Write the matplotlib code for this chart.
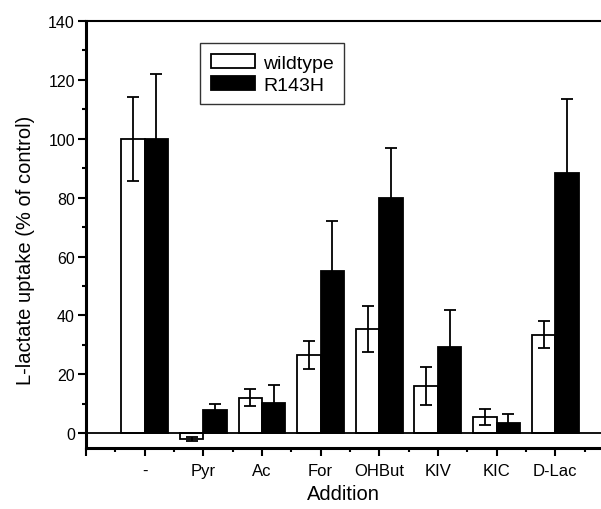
import numpy as np
import matplotlib.pyplot as plt
from matplotlib.ticker import MultipleLocator

plt.rcParams['font.family'] = ['Liberation Sans', 'DejaVu Sans']

categories = ['-', 'Pyr', 'Ac', 'For', 'OHBut', 'KIV', 'KIC', 'D-Lac']
wt_vals = [100, -2, 12, 26.5, 35.3, 16, 5.6, 33.5]
wt_err = [14.3, 0.6, 2.9, 4.7, 7.8, 6.5, 2.7, 4.6]
mut_vals = [100, 8, 10.3, 55, 80, 29.3, 3.5, 88.3]
mut_err = [22, 2, 6.1, 17, 17, 12.7, 3.1, 25.2]

x = np.arange(1, len(categories) + 1)
w = 0.4

fig = plt.figure(figsize=(6.01, 5.10), dpi=100)
ax = fig.add_axes([86/601, 1 - 449/510, 515/601, (449 - 22)/510])

ax.bar(x - w/2, wt_vals, width=w, color='white', edgecolor='black', lw=1.3,
       yerr=wt_err, error_kw=dict(ecolor='black', elinewidth=1.3, capsize=4, capthick=1.3),
       label='wildtype', zorder=2)
ax.bar(x + w/2, mut_vals, width=w, color='black', edgecolor='black', lw=1.3,
       yerr=mut_err, error_kw=dict(ecolor='black', elinewidth=1.3, capsize=4, capthick=1.3),
       label='R143H', zorder=2)

ax.axhline(0, color='black', lw=1.3, zorder=3)

ax.set_xlim(0, 8.78)
ax.set_ylim(-5, 140)
ax.set_xticks(range(0, 9))
ax.set_xticklabels([''] + categories)
ax.xaxis.set_minor_locator(MultipleLocator(0.5))
ax.yaxis.set_major_locator(MultipleLocator(20))
ax.yaxis.set_minor_locator(MultipleLocator(10))
ax.tick_params(axis='both', which='major', direction='out', length=6, width=1.5)
ax.tick_params(axis='both', which='minor', direction='out', length=3, width=1.5)
ax.tick_params(axis='y', labelsize=11.5, pad=2)
ax.tick_params(axis='x', labelsize=12, pad=5)

ax.spines['right'].set_visible(False)
ax.spines['left'].set_linewidth(2.2)
ax.spines['bottom'].set_linewidth(2.2)
ax.spines['top'].set_linewidth(1.5)

ax.set_xlabel('Addition', fontsize=14.5)
ax.xaxis.set_label_coords(0.5, -0.085)
ax.set_ylabel('L-lactate uptake (% of control)', fontsize=14.5)
ax.yaxis.set_label_coords(-0.099, 0.466)

leg = ax.legend(loc='upper left', bbox_to_anchor=(0.221, 0.948), fontsize=14,
                frameon=True, fancybox=False, edgecolor='black',
                handlelength=2.3, handleheight=0.75, handletextpad=0.4,
                borderpad=0.55, labelspacing=0.2, borderaxespad=0)
leg.get_frame().set_linewidth(1.0)

fig.savefig('out.png', dpi=100)
